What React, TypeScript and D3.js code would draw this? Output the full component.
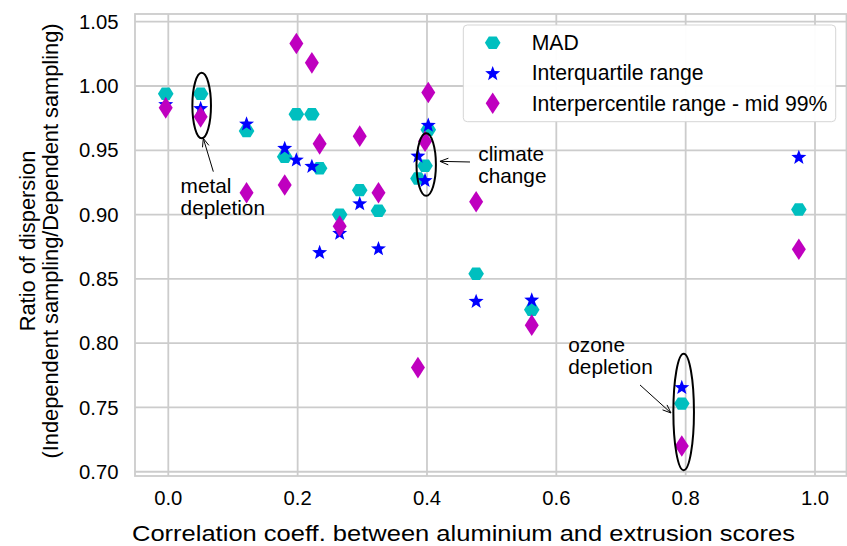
import React from "react";
import * as d3 from "d3";

const corr = [-0.004, 0.050, 0.121, 0.180, 0.198, 0.222, 0.234, 0.265, 0.296, 0.325, 0.386, 0.397, 0.402, 0.476, 0.562, 0.794, 0.975];
const mad = [0.994, 0.994, 0.965, 0.945, 0.978, 0.978, 0.936, 0.900, 0.919, 0.903, 0.928, 0.938, 0.966, 0.854, 0.826, 0.753, 0.904];
const iqr = [0.986, 0.983, 0.971, 0.952, 0.943, 0.938, 0.871, 0.886, 0.909, 0.874, 0.946, 0.927, 0.970, 0.833, 0.834, 0.766, 0.945];
const ipr = [0.983, 0.976, 0.917, 0.923, 1.033, 1.018, 0.955, 0.891, 0.961, 0.917, 0.781, 0.957, 0.995, 0.910, 0.814, 0.720, 0.873];

const xTicks = [0.0, 0.2, 0.4, 0.6, 0.8, 1.0];
const yTicks = [0.70, 0.75, 0.80, 0.85, 0.90, 0.95, 1.00, 1.05];

const seriesNames = ["MAD", "Interquartile range", "Interpercentile range - mid 99%"];
const seriesColors = ["#00bfbf", "#0000ff", "#bf00bf"];
const seriesShapes = ["hex", "star", "diamond"];

const annotations = [
  { label: ["metal", "depletion"], cx: 0.0516, cy: 0.9848, rx: 9.3, ry: 32.8, tx: 0.019, ty: 0.9168, ax1: [0.0696, 0.9334], ax2: [0.0541, 0.9593] },
  { label: ["climate", "change"], cx: 0.3988, cy: 0.9389, rx: 9.7, ry: 31.3, tx: 0.4793, ty: 0.9413, ax1: [0.4665, 0.9409], ax2: [0.4201, 0.9414] },
  { label: ["ozone", "depletion"], cx: 0.7969, cy: 0.7465, rx: 10.3, ry: 58.3, tx: 0.6185, ty: 0.7934, ax1: [0.7294, 0.7675], ax2: [0.7773, 0.7457] },
];

const W = 847, H = 546;
const L = 135, R = 846.5, T = 14, B = 476;
const FONT = "'Liberation Sans', Arial, Helvetica, sans-serif";

function shapePath(shape: string): string {
  if (shape === "hex") {
    const r = 7.8;
    const pts = d3.range(6).map((i) => {
      const a = (Math.PI / 3) * i;
      return [r * Math.cos(a), r * Math.sin(a) * 0.92];
    });
    return "M" + pts.map((p) => p.join(",")).join("L") + "Z";
  }
  if (shape === "star") {
    const ro = 7.9, ri = ro * 0.42;
    const pts = d3.range(10).map((i) => {
      const a = -Math.PI / 2 + (Math.PI / 5) * i;
      const r = i % 2 === 0 ? ro : ri;
      return [r * Math.cos(a), r * Math.sin(a) + 0.8];
    });
    return "M" + pts.map((p) => p.join(",")).join("L") + "Z";
  }
  const hw = 7, hh = 10.8;
  return `M0,${-hh}L${hw},0L0,${hh}L${-hw},0Z`;
}

export default function App() {
  const x = d3.scaleLinear().domain([-0.0515, 1.0487]).range([L, R]);
  const y = d3.scaleLinear().domain([0.6967, 1.056]).range([B, T]);
  const series = [mad, iqr, ipr];
  const grid = "#cccccc";

  const arrowHead = (x1: number, y1: number, x2: number, y2: number) => {
    const ang = Math.atan2(y2 - y1, x2 - x1);
    const len = 9, spread = 0.38;
    const p1 = [x2 - len * Math.cos(ang - spread), y2 - len * Math.sin(ang - spread)];
    const p2 = [x2 - len * Math.cos(ang + spread), y2 - len * Math.sin(ang + spread)];
    return `M${p1[0]},${p1[1]}L${x2},${y2}L${p2[0]},${p2[1]}`;
  };

  return (
    <svg width={W} height={H} style={{ position: "absolute", left: 0, top: 0, background: "#fff" }} fontFamily={FONT}>
      <rect x={0} y={0} width={W} height={H} fill="#fff" />
      {xTicks.map((t) => (
        <line key={"gx" + t} x1={x(t)} x2={x(t)} y1={T} y2={B} stroke={grid} strokeWidth={1.8} />
      ))}
      {yTicks.map((t) => (
        <line key={"gy" + t} x1={L} x2={R} y1={y(t)} y2={y(t)} stroke={grid} strokeWidth={1.8} />
      ))}
      <rect x={L} y={T} width={R - L} height={B - T} fill="none" stroke={grid} strokeWidth={1.8} />

      {series.map((vals, si) => (
        <g key={"s" + si} fill={seriesColors[si]}>
          {vals.map((v, i) => (
            <path key={i} d={shapePath(seriesShapes[si])} transform={`translate(${x(corr[i])},${y(v)})`} />
          ))}
        </g>
      ))}

      {annotations.map((a, i) => {
        const x1 = x(a.ax1[0]), y1 = y(a.ax1[1]), x2 = x(a.ax2[0]), y2 = y(a.ax2[1]);
        return (
          <g key={"an" + i}>
            <ellipse cx={x(a.cx)} cy={y(a.cy)} rx={a.rx} ry={a.ry} fill="none" stroke="#000" strokeWidth={2} />
            <line x1={x1} y1={y1} x2={x2} y2={y2} stroke="#000" strokeWidth={1} />
            <path d={arrowHead(x1, y1, x2, y2)} fill="none" stroke="#000" strokeWidth={1} />
            <text x={x(a.tx)} y={y(a.ty)} fontSize={20.8} fill="#000">
              <tspan x={x(a.tx)}>{a.label[0]}</tspan>
              <tspan x={x(a.tx)} dy={22}>{a.label[1]}</tspan>
            </text>
          </g>
        );
      })}

      <g>
        <rect x={463.3} y={25} width={372.4} height={96.7} rx={4} fill="#fff" fillOpacity={0.95} stroke="#d5d5d5" strokeWidth={1} />
        {seriesNames.map((n, i) => {
          const ry = 42.7 + i * 30.3;
          return (
            <g key={"lg" + i}>
              <path d={shapePath(seriesShapes[i])} transform={`translate(492.7,${ry})`} fill={seriesColors[i]} />
              <text x={531.7} y={ry} dy="0.35em" fontSize={21.2} fill="#000">{n}</text>
            </g>
          );
        })}
      </g>

      {xTicks.map((t) => (
        <text key={"tx" + t} x={x(t)} y={504.5} textAnchor="middle" fontSize={20.3} fill="#000">{t.toFixed(1)}</text>
      ))}
      {yTicks.map((t) => (
        <text key={"ty" + t} x={118.5} y={y(t)} dy="0.35em" textAnchor="end" fontSize={20.3} fill="#000">{t.toFixed(2)}</text>
      ))}

      <text x={463.5} y={540.5} textAnchor="middle" fontSize={21.5} textLength={663} lengthAdjust="spacingAndGlyphs" fill="#000">
        Correlation coeff. between aluminium and extrusion scores
      </text>
      <g transform={`translate(0,241) rotate(-90)`}>
        <text x={0} y={35} textAnchor="middle" fontSize={21.8} fill="#000">Ratio of dispersion</text>
        <text x={0} y={58} textAnchor="middle" fontSize={21.8} fill="#000">(Independent sampling/Dependent sampling)</text>
      </g>
    </svg>
  );
}
